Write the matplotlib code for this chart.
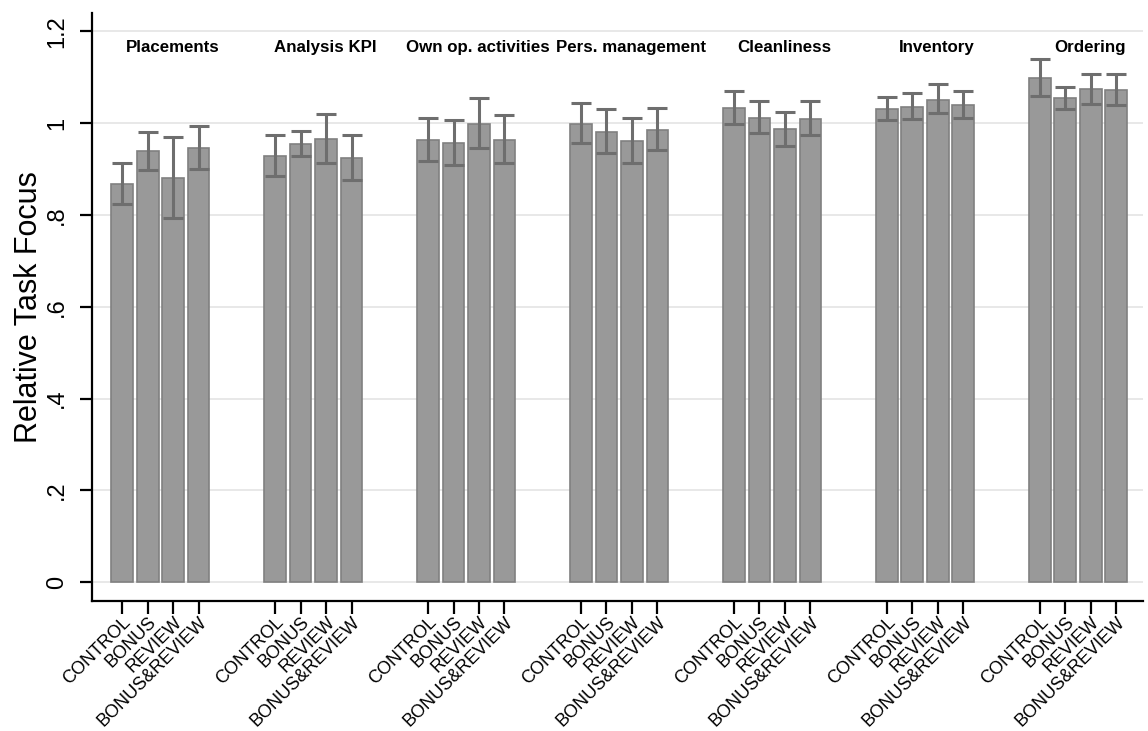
import matplotlib.pyplot as plt
import numpy as np

plt.rcParams["font.family"] = ["Liberation Sans", "DejaVu Sans"]

tasks = ["Placements", "Analysis KPI", "Own op. activities", "Pers. management",
         "Cleanliness", "Inventory", "Ordering"]
treatments = ["CONTROL", "BONUS", "REVIEW", "BONUS&REVIEW"]

# mean relative task focus, one row per task, one column per treatment
means = [
    [0.867, 0.939, 0.880, 0.946],
    [0.929, 0.955, 0.966, 0.924],
    [0.963, 0.957, 0.999, 0.963],
    [0.999, 0.981, 0.962, 0.985],
    [1.033, 1.012, 0.987, 1.010],
    [1.031, 1.036, 1.051, 1.039],
    [1.099, 1.054, 1.074, 1.072],
]
ci_low = [
    [0.824, 0.899, 0.793, 0.901],
    [0.885, 0.929, 0.914, 0.876],
    [0.918, 0.909, 0.946, 0.914],
    [0.956, 0.934, 0.913, 0.942],
    [0.999, 0.978, 0.951, 0.975],
    [1.007, 1.009, 1.022, 1.012],
    [1.060, 1.031, 1.041, 1.039],
]
ci_high = [
    [0.914, 0.980, 0.970, 0.994],
    [0.975, 0.982, 1.020, 0.975],
    [1.012, 1.007, 1.054, 1.017],
    [1.043, 1.031, 1.012, 1.033],
    [1.071, 1.048, 1.024, 1.049],
    [1.058, 1.066, 1.085, 1.070],
    [1.139, 1.079, 1.108, 1.107],
]
yticks = [0, 0.2, 0.4, 0.6, 0.8, 1.0, 1.2]
ytick_labels = ["0", ".2", ".4", ".6", ".8", "1", "1.2"]

m = np.array(means)
lo = np.array(ci_low)
hi = np.array(ci_high)
n_groups, n_bars = m.shape
gap = 6
x = np.array([[g * gap + i for i in range(n_bars)] for g in range(n_groups)])

fig = plt.figure(figsize=(11.48, 7.31), dpi=100)
ax = fig.add_axes([0.0801, 0.1778, 0.9155, 0.8044])

for v in yticks:
    ax.axhline(v, color="#e6e6e6", linewidth=1.3, zorder=0)

ax.bar(x.ravel(), m.ravel(), width=0.86, color="#999999",
       edgecolor="#808080", linewidth=1.2, zorder=2)
ax.errorbar(x.ravel(), m.ravel(),
            yerr=[m.ravel() - lo.ravel(), hi.ravel() - m.ravel()],
            fmt="none", ecolor="#6e6e6e", elinewidth=2.2, capsize=7.5,
            capthick=2.2, zorder=3)

for g, name in enumerate(tasks):
    ax.text(g * gap + 1.97, 1.155, name, ha="center", va="baseline",
            fontsize=12.2, fontweight="bold")

ax.set_xlim(-1.18, 40.04)
ax.set_ylim(-0.041, 1.24)
ax.set_xticks(x.ravel())
ax.set_xticklabels(treatments * n_groups, rotation=45, ha="right",
                   va="top", rotation_mode="anchor", fontsize=13)
ax.set_yticks(yticks)
ax.set_yticklabels(ytick_labels, rotation=90, va="center", fontsize=17)
ax.set_ylabel("Relative Task Focus", fontsize=22, labelpad=2)

for s in ["top", "right"]:
    ax.spines[s].set_visible(False)
for s in ["left", "bottom"]:
    ax.spines[s].set_linewidth(1.6)
ax.tick_params(axis="both", direction="out", length=9, width=1.6)
ax.tick_params(axis="y", pad=8)
ax.tick_params(axis="x", pad=0)

fig.savefig("out.png", dpi=100)
